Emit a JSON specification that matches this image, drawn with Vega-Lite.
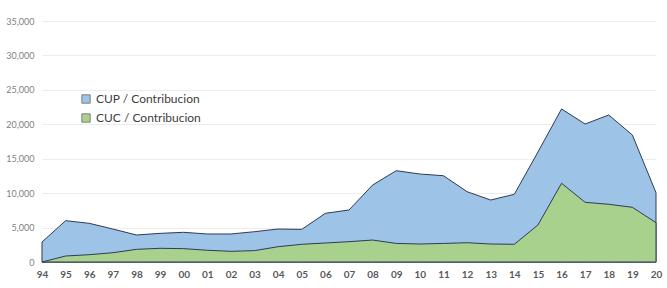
{
  "$schema": "https://vega.github.io/schema/vega-lite/v6.json",
  "width": 614,
  "height": 241,
  "autosize": "none",
  "padding": {"left": 42, "top": 21, "right": 11, "bottom": 26},
  "background": "white",
  "config": {"view": {"stroke": null}, "font": "Lato"},
  "data": {"values": [
    {"year": "94", "series": "CUP / Contribucion", "value": 2900},
    {"year": "95", "series": "CUP / Contribucion", "value": 6000},
    {"year": "96", "series": "CUP / Contribucion", "value": 5620},
    {"year": "97", "series": "CUP / Contribucion", "value": 4790},
    {"year": "98", "series": "CUP / Contribucion", "value": 3920},
    {"year": "99", "series": "CUP / Contribucion", "value": 4160},
    {"year": "00", "series": "CUP / Contribucion", "value": 4310},
    {"year": "01", "series": "CUP / Contribucion", "value": 4070},
    {"year": "02", "series": "CUP / Contribucion", "value": 4070},
    {"year": "03", "series": "CUP / Contribucion", "value": 4400},
    {"year": "04", "series": "CUP / Contribucion", "value": 4790},
    {"year": "05", "series": "CUP / Contribucion", "value": 4740},
    {"year": "06", "series": "CUP / Contribucion", "value": 7070},
    {"year": "07", "series": "CUP / Contribucion", "value": 7550},
    {"year": "08", "series": "CUP / Contribucion", "value": 11180},
    {"year": "09", "series": "CUP / Contribucion", "value": 13260},
    {"year": "10", "series": "CUP / Contribucion", "value": 12780},
    {"year": "11", "series": "CUP / Contribucion", "value": 12530},
    {"year": "12", "series": "CUP / Contribucion", "value": 10210},
    {"year": "13", "series": "CUP / Contribucion", "value": 9000},
    {"year": "14", "series": "CUP / Contribucion", "value": 9830},
    {"year": "15", "series": "CUP / Contribucion", "value": 15970},
    {"year": "16", "series": "CUP / Contribucion", "value": 22220},
    {"year": "17", "series": "CUP / Contribucion", "value": 20040},
    {"year": "18", "series": "CUP / Contribucion", "value": 21350},
    {"year": "19", "series": "CUP / Contribucion", "value": 18440},
    {"year": "20", "series": "CUP / Contribucion", "value": 10060},
    {"year": "94", "series": "CUC / Contribucion", "value": 0},
    {"year": "95", "series": "CUC / Contribucion", "value": 870},
    {"year": "96", "series": "CUC / Contribucion", "value": 1060},
    {"year": "97", "series": "CUC / Contribucion", "value": 1350},
    {"year": "98", "series": "CUC / Contribucion", "value": 1840},
    {"year": "99", "series": "CUC / Contribucion", "value": 1990},
    {"year": "00", "series": "CUC / Contribucion", "value": 1940},
    {"year": "01", "series": "CUC / Contribucion", "value": 1700},
    {"year": "02", "series": "CUC / Contribucion", "value": 1550},
    {"year": "03", "series": "CUC / Contribucion", "value": 1650},
    {"year": "04", "series": "CUC / Contribucion", "value": 2220},
    {"year": "05", "series": "CUC / Contribucion", "value": 2570},
    {"year": "06", "series": "CUC / Contribucion", "value": 2760},
    {"year": "07", "series": "CUC / Contribucion", "value": 2950},
    {"year": "08", "series": "CUC / Contribucion", "value": 3190},
    {"year": "09", "series": "CUC / Contribucion", "value": 2700},
    {"year": "10", "series": "CUC / Contribucion", "value": 2610},
    {"year": "11", "series": "CUC / Contribucion", "value": 2700},
    {"year": "12", "series": "CUC / Contribucion", "value": 2800},
    {"year": "13", "series": "CUC / Contribucion", "value": 2610},
    {"year": "14", "series": "CUC / Contribucion", "value": 2570},
    {"year": "15", "series": "CUC / Contribucion", "value": 5370},
    {"year": "16", "series": "CUC / Contribucion", "value": 11430},
    {"year": "17", "series": "CUC / Contribucion", "value": 8670},
    {"year": "18", "series": "CUC / Contribucion", "value": 8380},
    {"year": "19", "series": "CUC / Contribucion", "value": 7940},
    {"year": "20", "series": "CUC / Contribucion", "value": 5710}
  ]},
  "encoding": {
    "x": {
      "field": "year", "type": "ordinal",
      "sort": ["94","95","96","97","98","99","00","01","02","03","04","05","06","07","08","09","10","11","12","13","14","15","16","17","18","19","20"],
      "scale": {"type": "point", "padding": 0},
      "axis": {"title": null, "labelAngle": 0, "ticks": false, "domain": true, "domainColor": "#bfbfbf", "labelColor": "#595959", "labelFontSize": 10, "labelFontWeight": "bold", "labelPadding": 7, "grid": false}
    },
    "y": {
      "field": "value", "type": "quantitative",
      "stack": null,
      "scale": {"domain": [0, 35000], "nice": false},
      "axis": {"title": null, "values": [0,5000,10000,15000,20000,25000,30000,35000], "format": ",.0f", "ticks": false, "domain": false, "gridColor": "#ececec", "labelColor": "#7f7f7f", "labelFontSize": 9, "labelPadding": 8}
    },
    "color": {
      "field": "series", "type": "nominal",
      "scale": {"domain": ["CUP / Contribucion", "CUC / Contribucion"], "range": ["#9dc3e6", "#a9d18e"]},
      "legend": {"title": null, "orient": "none", "legendX": 38, "legendY": 72, "symbolType": "square", "symbolSize": 70, "symbolStrokeColor": "#7f7f7f", "symbolStrokeWidth": 1, "symbolOpacity": 1, "labelFontSize": 12, "labelColor": "#404040", "rowPadding": 5, "labelOffset": 4}
    }
  },
  "layer": [
    {
      "transform": [{"filter": "datum.series === 'CUP / Contribucion'"}],
      "mark": {"type": "area", "stroke": "#2e3b55", "strokeWidth": 1, "opacity": 1, "strokeJoin": "round"}
    },
    {
      "transform": [{"filter": "datum.series === 'CUC / Contribucion'"}],
      "mark": {"type": "area", "stroke": "#2e3b55", "strokeWidth": 1, "opacity": 1, "strokeJoin": "round"}
    }
  ]
}
